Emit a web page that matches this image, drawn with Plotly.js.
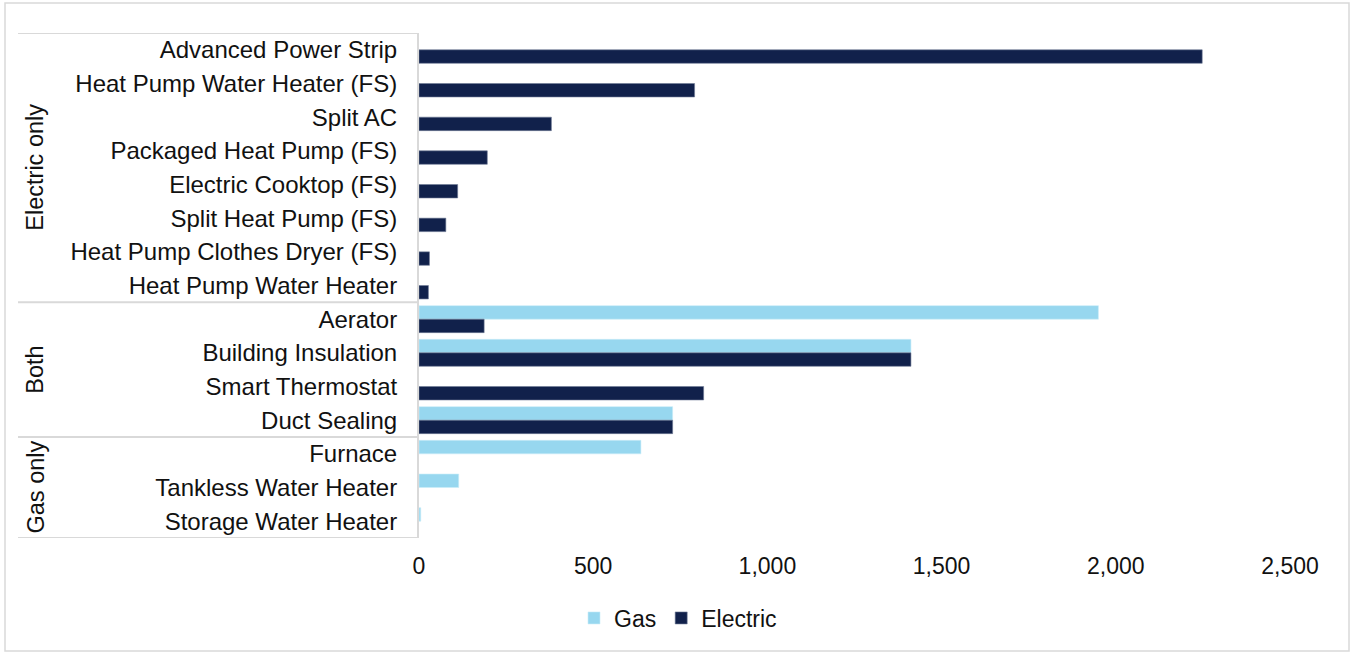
<!DOCTYPE html>
<html>
<head>
<meta charset="utf-8">
<script src="https://cdn.plot.ly/plotly-3.0.1.min.js"></script>
<style>
  html, body { margin: 0; padding: 0; background: #ffffff; }
  #chart { width: 1352px; height: 654px; }
</style>
</head>
<body>
<div id="chart"></div>
<script>
// ---- data ----
const categories = [
  "Advanced Power Strip",
  "Heat Pump Water Heater (FS)",
  "Split AC",
  "Packaged Heat Pump (FS)",
  "Electric Cooktop (FS)",
  "Split Heat Pump (FS)",
  "Heat Pump Clothes Dryer (FS)",
  "Heat Pump Water Heater",
  "Aerator",
  "Building Insulation",
  "Smart Thermostat",
  "Duct Sealing",
  "Furnace",
  "Tankless Water Heater",
  "Storage Water Heater"
];
const groupNames = ["Electric only", "Both", "Gas only"];
const groupSizes = [8, 4, 3];
const gasValues = [null, null, null, null, null, null, null, null, 1950, 1412, null, 728, 637, 114, 5];
const electricValues = [2248, 791, 380, 196, 111, 77, 30, 27, 187, 1412, 817, 728, null, null, null];
const xTickVals = [0, 500, 1000, 1500, 2000, 2500];

// ---- layout constants (pixels) ----
const W = 1352, H = 654;
const L = 419, R = 62, T = 33, B = 116;
const plotW = W - L - R, plotH = H - T - B;
const px2x = p => (p - L) / plotW;
const px2y = p => (H - B - p) / plotH;

const FONT = "Liberation Sans, Arial, sans-serif";
const GAS = "#97d7ef", ELEC = "#11214b";

const traces = [
  { type: "bar", orientation: "h", name: "Gas", y: categories, x: gasValues,
    marker: { color: GAS, line: { color: "#c9ecf8", width: 0.6 } }, hoverinfo: "x+y" },
  { type: "bar", orientation: "h", name: "Electric", y: categories, x: electricValues,
    marker: { color: ELEC, line: { color: "#6f7a96", width: 0.6 } }, hoverinfo: "x+y" }
];

// group boundaries and labels
const shapes = [];
const annotations = [];
let start = 0;
const boundaries = [-0.5];
groupNames.forEach((g, i) => {
  const end = start + groupSizes[i] - 1;
  boundaries.push(end + 0.5);
  annotations.push({
    text: g, xref: "paper", yref: "y", x: px2x(35), y: (start + end) / 2,
    textangle: -90, showarrow: false, xanchor: "center", yanchor: "middle",
    font: { family: FONT, size: 23.5, color: "#111111" }
  });
  start = end + 1;
});
boundaries.forEach(b => {
  shapes.push({ type: "line", xref: "paper", yref: "y", x0: px2x(18), x1: 0, y0: b, y1: b,
    line: { color: "#d9d9d9", width: 2 } });
});
// outer chart border
shapes.push({ type: "rect", xref: "paper", yref: "paper",
  x0: px2x(5), x1: px2x(1349), y0: px2y(651), y1: px2y(3),
  line: { color: "#d9d9d9", width: 1.5 }, fillcolor: "rgba(0,0,0,0)", layer: "below" });

const layout = {
  width: W, height: H,
  margin: { l: L, r: R, t: T, b: B, pad: 0 },
  paper_bgcolor: "#ffffff", plot_bgcolor: "#ffffff",
  barmode: "group", bargap: 0.2, bargroupgap: 0,
  showlegend: true,
  legend: {
    orientation: "h", x: px2x(678), xanchor: "center", y: px2y(618), yanchor: "middle",
    font: { family: FONT, size: 23, color: "#111111" }, itemwidth: 30, traceorder: "normal"
  },
  xaxis: {
    range: [0, 2500], tickvals: xTickVals, tickformat: ",d",
    showgrid: false, zeroline: false, showline: false,
    ticks: "outside", ticklen: 7, tickcolor: "rgba(0,0,0,0)",
    tickfont: { family: FONT, size: 23, color: "#111111" }, fixedrange: true
  },
  yaxis: {
    type: "category", range: [categories.length - 0.5, -0.5],
    showgrid: false, zeroline: false, showline: true, linecolor: "#d9d9d9", linewidth: 2,
    ticks: "outside", ticklen: 15, tickcolor: "rgba(0,0,0,0)",
    tickfont: { family: FONT, size: 24, color: "#111111" }, fixedrange: true
  },
  shapes: shapes,
  annotations: annotations,
  font: { family: FONT }
};

Plotly.newPlot("chart", traces, layout, { displayModeBar: false, staticPlot: true });
</script>
</body>
</html>
